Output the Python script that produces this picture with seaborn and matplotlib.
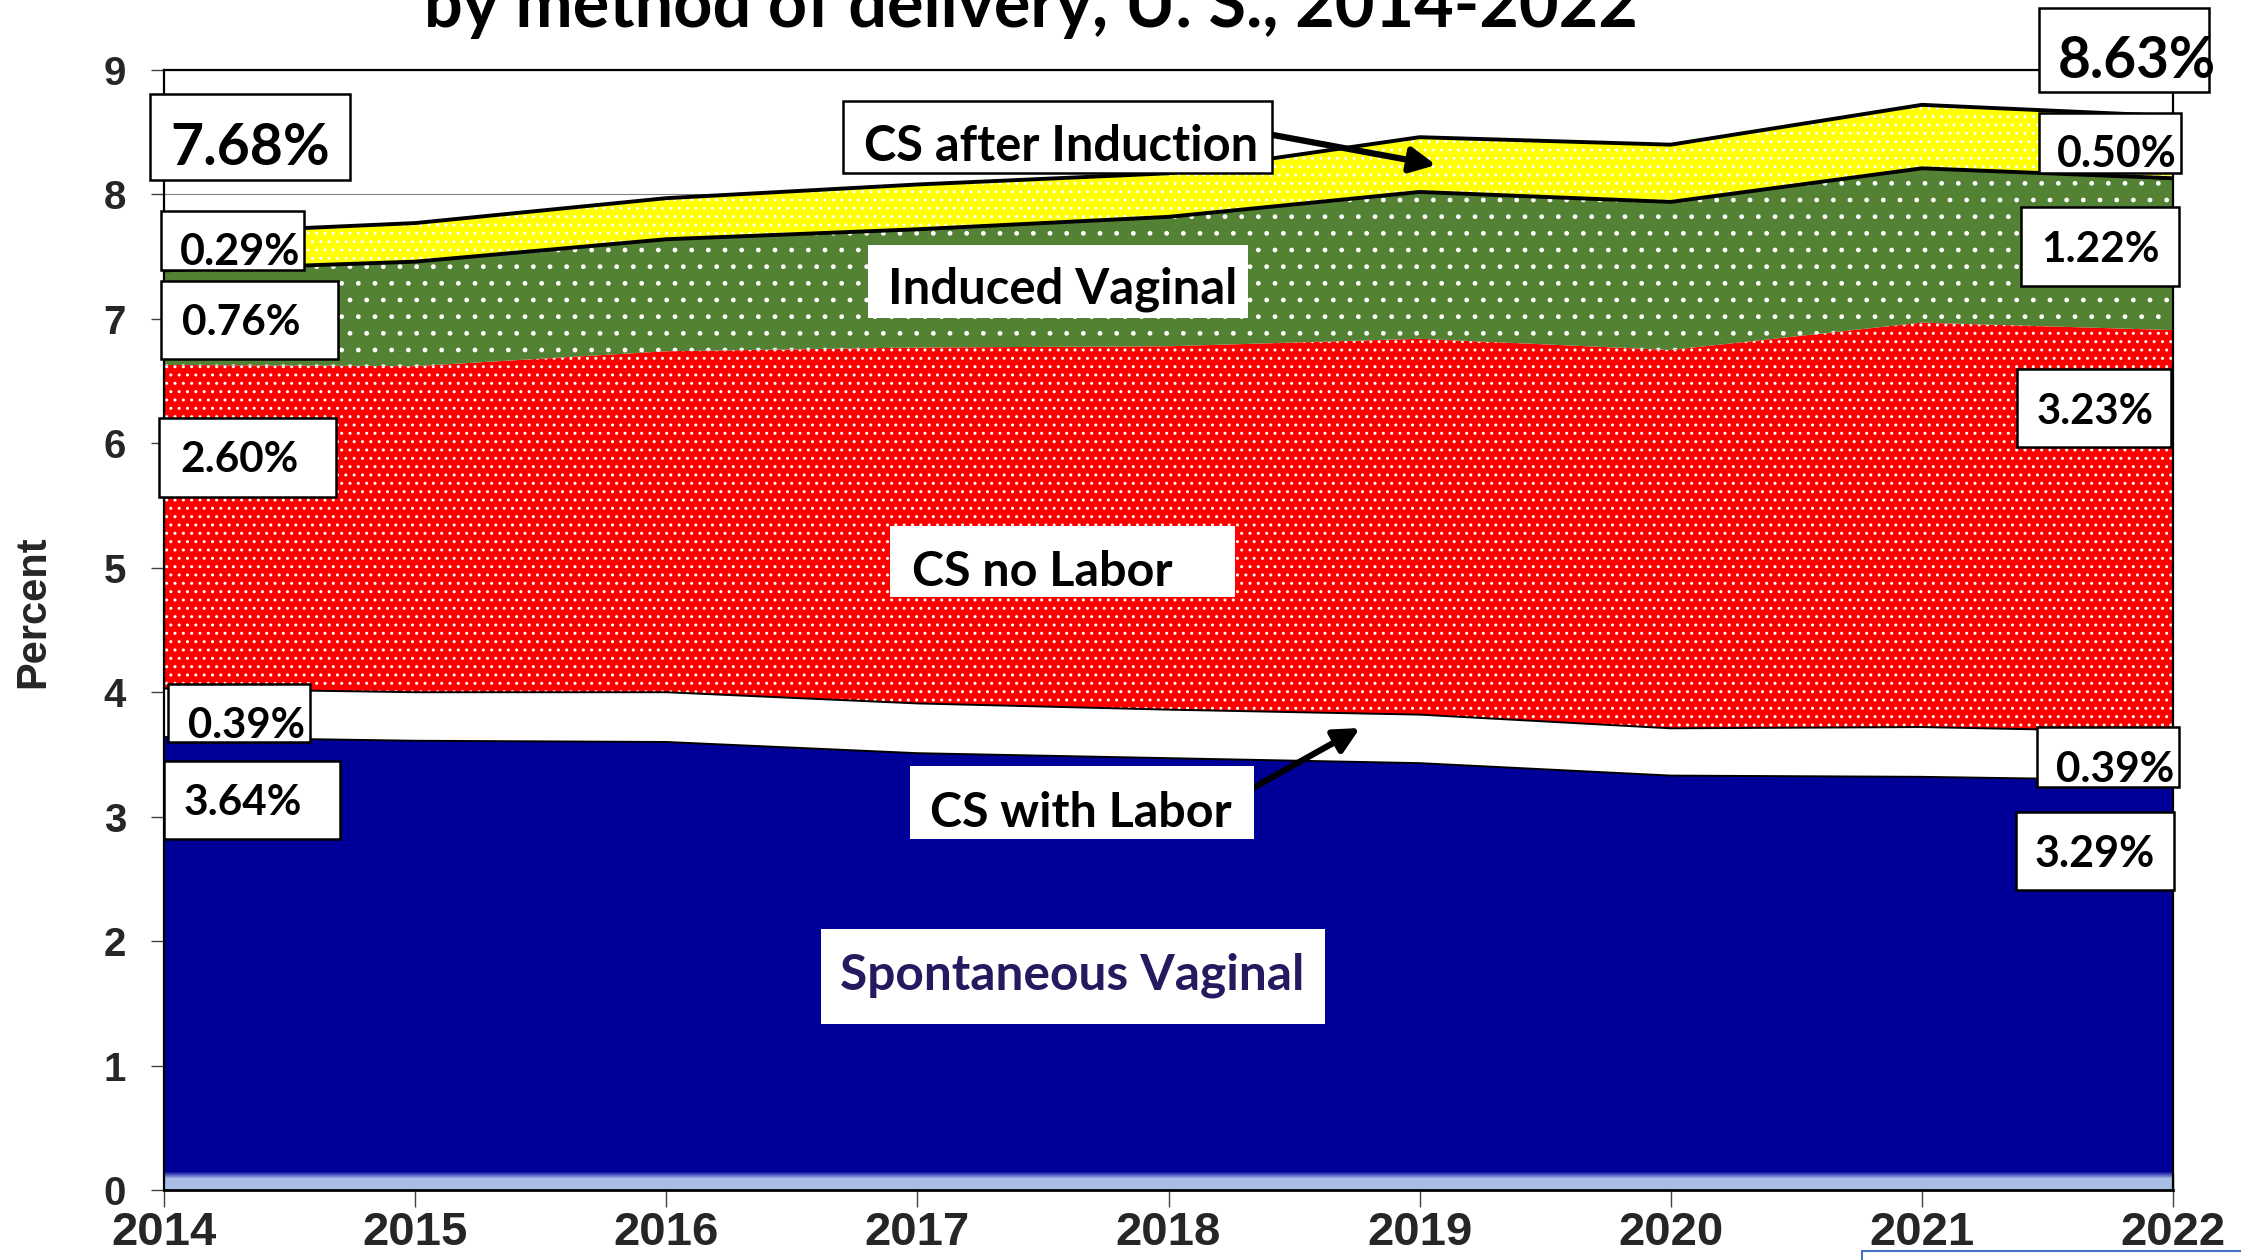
"""Stacked area of delivery method percentages, U.S. 2014-2022."""

import matplotlib

matplotlib.use("Agg")

import matplotlib.pyplot as plt
import numpy as np
import seaborn as sns
from matplotlib.colors import LinearSegmentedColormap
from matplotlib.patches import Rectangle

W, H = 2241, 1260
DPI = 100
LABEL_FONT = ["Lato", "DejaVu Sans"]
TICK_FONT = ["Liberation Sans", "DejaVu Sans"]

years = [2014, 2015, 2016, 2017, 2018, 2019, 2020, 2021, 2022]
spontaneous_vaginal = [3.64, 3.61, 3.60, 3.51, 3.47, 3.43, 3.33, 3.32, 3.29]
cs_with_labor = [0.39, 0.39, 0.40, 0.40, 0.39, 0.39, 0.38, 0.40, 0.39]
cs_no_labor = [2.60, 2.62, 2.74, 2.86, 2.92, 3.02, 3.04, 3.25, 3.23]
induced_vaginal = [0.76, 0.84, 0.90, 0.95, 1.04, 1.18, 1.19, 1.24, 1.22]
cs_after_induction = [0.29, 0.31, 0.33, 0.36, 0.35, 0.44, 0.46, 0.51, 0.50]

y_ticks = list(range(0, 10))
title = "by method of delivery, U. S., 2014-2022"

sns.set_theme(style="white")
plt.rcParams["font.family"] = LABEL_FONT
plt.rcParams["hatch.color"] = "white"
plt.rcParams["hatch.linewidth"] = 1.0

layers = [spontaneous_vaginal, cs_with_labor, cs_no_labor, induced_vaginal, cs_after_induction]
colors = ["#000099", "#ffffff", "#ff0000", "#548235", "#ffff00"]
hatches = ["", "", "..", ".", ".."]
tops = np.cumsum(np.array(layers), axis=0)

fig = plt.figure(figsize=(W / DPI, H / DPI), dpi=DPI)
ax = fig.add_axes([164 / W, (H - 1190) / H, (2173 - 164) / W, 1120 / H])
ax.set_axisbelow(True)
ax.grid(axis="y", color="#808080", linewidth=0.8)
ax.grid(axis="x", visible=False)

ax.stackplot(years, *layers, colors=colors, hatch=hatches, linewidth=0)

# outlines between the layers
for idx, lw in [(0, 1.4), (1, 1.4), (3, 2.8), (4, 2.8)]:
    sns.lineplot(x=years, y=tops[idx], color="black", linewidth=lw, ax=ax)

# light gradient strip along the bottom of the blue area
cmap = LinearSegmentedColormap.from_list("band", ["#a9bde6", "#000099"])
strip = np.concatenate([np.zeros(12), np.linspace(0, 1, 8)])[:, None]
ax.imshow(strip, cmap=cmap, origin="lower", aspect="auto",
          extent=[years[0], years[-1], 0, 0.15], zorder=1.5, interpolation="nearest")

ax.set_xlim(years[0], years[-1])
ax.set_ylim(0, 9)
ax.set_xticks(years)
ax.set_xticklabels([str(y) for y in years])
ax.set_yticks(y_ticks)
ax.set_yticklabels([str(t) for t in y_ticks])
for lab in ax.get_xticklabels():
    lab.set_fontfamily(TICK_FONT)
    lab.set_fontweight("bold")
    lab.set_fontsize(34)
for lab in ax.get_yticklabels():
    lab.set_fontfamily(TICK_FONT)
    lab.set_fontweight("bold")
    lab.set_fontsize(29)
ax.tick_params(axis="x", direction="inout", length=24, width=1, color="#404040", pad=3)
ax.tick_params(axis="y", direction="out", length=9.4, width=1, color="#404040", pad=18)
ax.tick_params(bottom=True, left=True)
for side in ["left", "right", "top", "bottom"]:
    ax.spines[side].set_visible(True)
    ax.spines[side].set_color("black")
    ax.spines[side].set_linewidth(1.6)
ax.spines["bottom"].set_linewidth(2.0)
ax.set_xlabel("")
ax.set_ylabel("")

renderer = fig.canvas.get_renderer()


def fx(x):
    return x / W


def fy(y):
    return 1 - y / H


def box(x0, y0, x1, y1, edge=True):
    fig.add_artist(Rectangle((fx(x0), fy(y1)), (x1 - x0) / W, (y1 - y0) / H,
                             transform=fig.transFigure, facecolor="white",
                             edgecolor="black" if edge else "none", linewidth=1.8, zorder=5))


def fitted_text(x0, x1, base, s, color="black", size=30, ha="center"):
    x = (x0 + x1) / 2 if ha == "center" else x0
    t = fig.text(fx(x), fy(base), s, ha=ha, va="baseline", fontsize=size,
                 fontweight="bold", color=color, family=LABEL_FONT, zorder=6)
    width = t.get_window_extent(renderer).width
    t.set_fontsize(size * (x1 - x0) / width)
    return t


def pct(v):
    return f"{v:.2f}%"


first = [layer[0] for layer in layers]
last = [layer[-1] for layer in layers]

# left column of value boxes (2014)
box(150, 94, 350, 180)
fitted_text(171, 330, 165, pct(sum(first)))
left_boxes = [
    ((164, 761, 340, 839), (184, 302, 815)),
    ((168, 684, 310, 742), (188, 305, 738)),
    ((159, 418, 336, 497), (180, 298, 472)),
    ((161, 281, 338, 359), (182, 300, 335)),
    ((161, 211, 304, 270), (180, 300, 265)),
]
for value, (rect, (tx0, tx1, base)) in zip(first, left_boxes):
    box(*rect)
    fitted_text(tx0, tx1, base, pct(value))

# right column of value boxes (2022)
box(2039, 8, 2209, 92)
fitted_text(2058, 2216, 78, pct(sum(last)))
right_boxes = [
    ((2016, 812, 2174, 890), (2035, 2155, 867)),
    ((2037, 727, 2179, 787), (2056, 2174, 782)),
    ((2017, 369, 2171, 447), (2037, 2154, 424)),
    ((2021, 207, 2179, 286), (2041, 2159, 262)),
    ((2039, 113, 2181, 173), (2057, 2176, 167)),
]
for value, (rect, (tx0, tx1, base)) in zip(last, right_boxes):
    box(*rect)
    fitted_text(tx0, tx1, base, pct(value))

# category names
box(843, 101, 1272, 173)
fitted_text(865, 1258, 161, "CS after Induction")
box(868, 245, 1248, 318, edge=False)
fitted_text(889, 1237, 303, "Induced Vaginal")
box(890, 526, 1235, 597, edge=False)
fitted_text(912, 1172, 586, "CS no Labor")
box(910, 766, 1254, 839, edge=False)
fitted_text(930, 1231, 827, "CS with Labor")
box(821, 929, 1325, 1024, edge=False)
fitted_text(841, 1304, 989, "Spontaneous Vaginal", color="#231a5f")

arrow = dict(arrowstyle="-|>", color="black", lw=4.5, mutation_scale=38, shrinkA=0, shrinkB=0)
ax.annotate("", xy=(fx(1436), fy(165)), xytext=(fx(1273), fy(135)),
            xycoords="figure fraction", textcoords="figure fraction",
            arrowprops=arrow, annotation_clip=False, zorder=7)
ax.annotate("", xy=(fx(1360), fy(728)), xytext=(fx(1244), fy(793)),
            xycoords="figure fraction", textcoords="figure fraction",
            arrowprops=arrow, annotation_clip=False, zorder=7)

# title line (its first line sits above the visible area)
fitted_text(424, 1638, 27, title, size=42, ha="left")

fig.text(fx(33), fy(612), "Percent", rotation=90, ha="center", va="center",
         family=TICK_FONT, fontweight="bold", fontsize=30)

fig.add_artist(Rectangle((fx(1862), fy(1280)), 420 / W, 29 / H, transform=fig.transFigure,
                         facecolor="white", edgecolor="#4472c4", linewidth=1.5, zorder=5))

fig.savefig("out.png", dpi=DPI)
plt.close(fig)
